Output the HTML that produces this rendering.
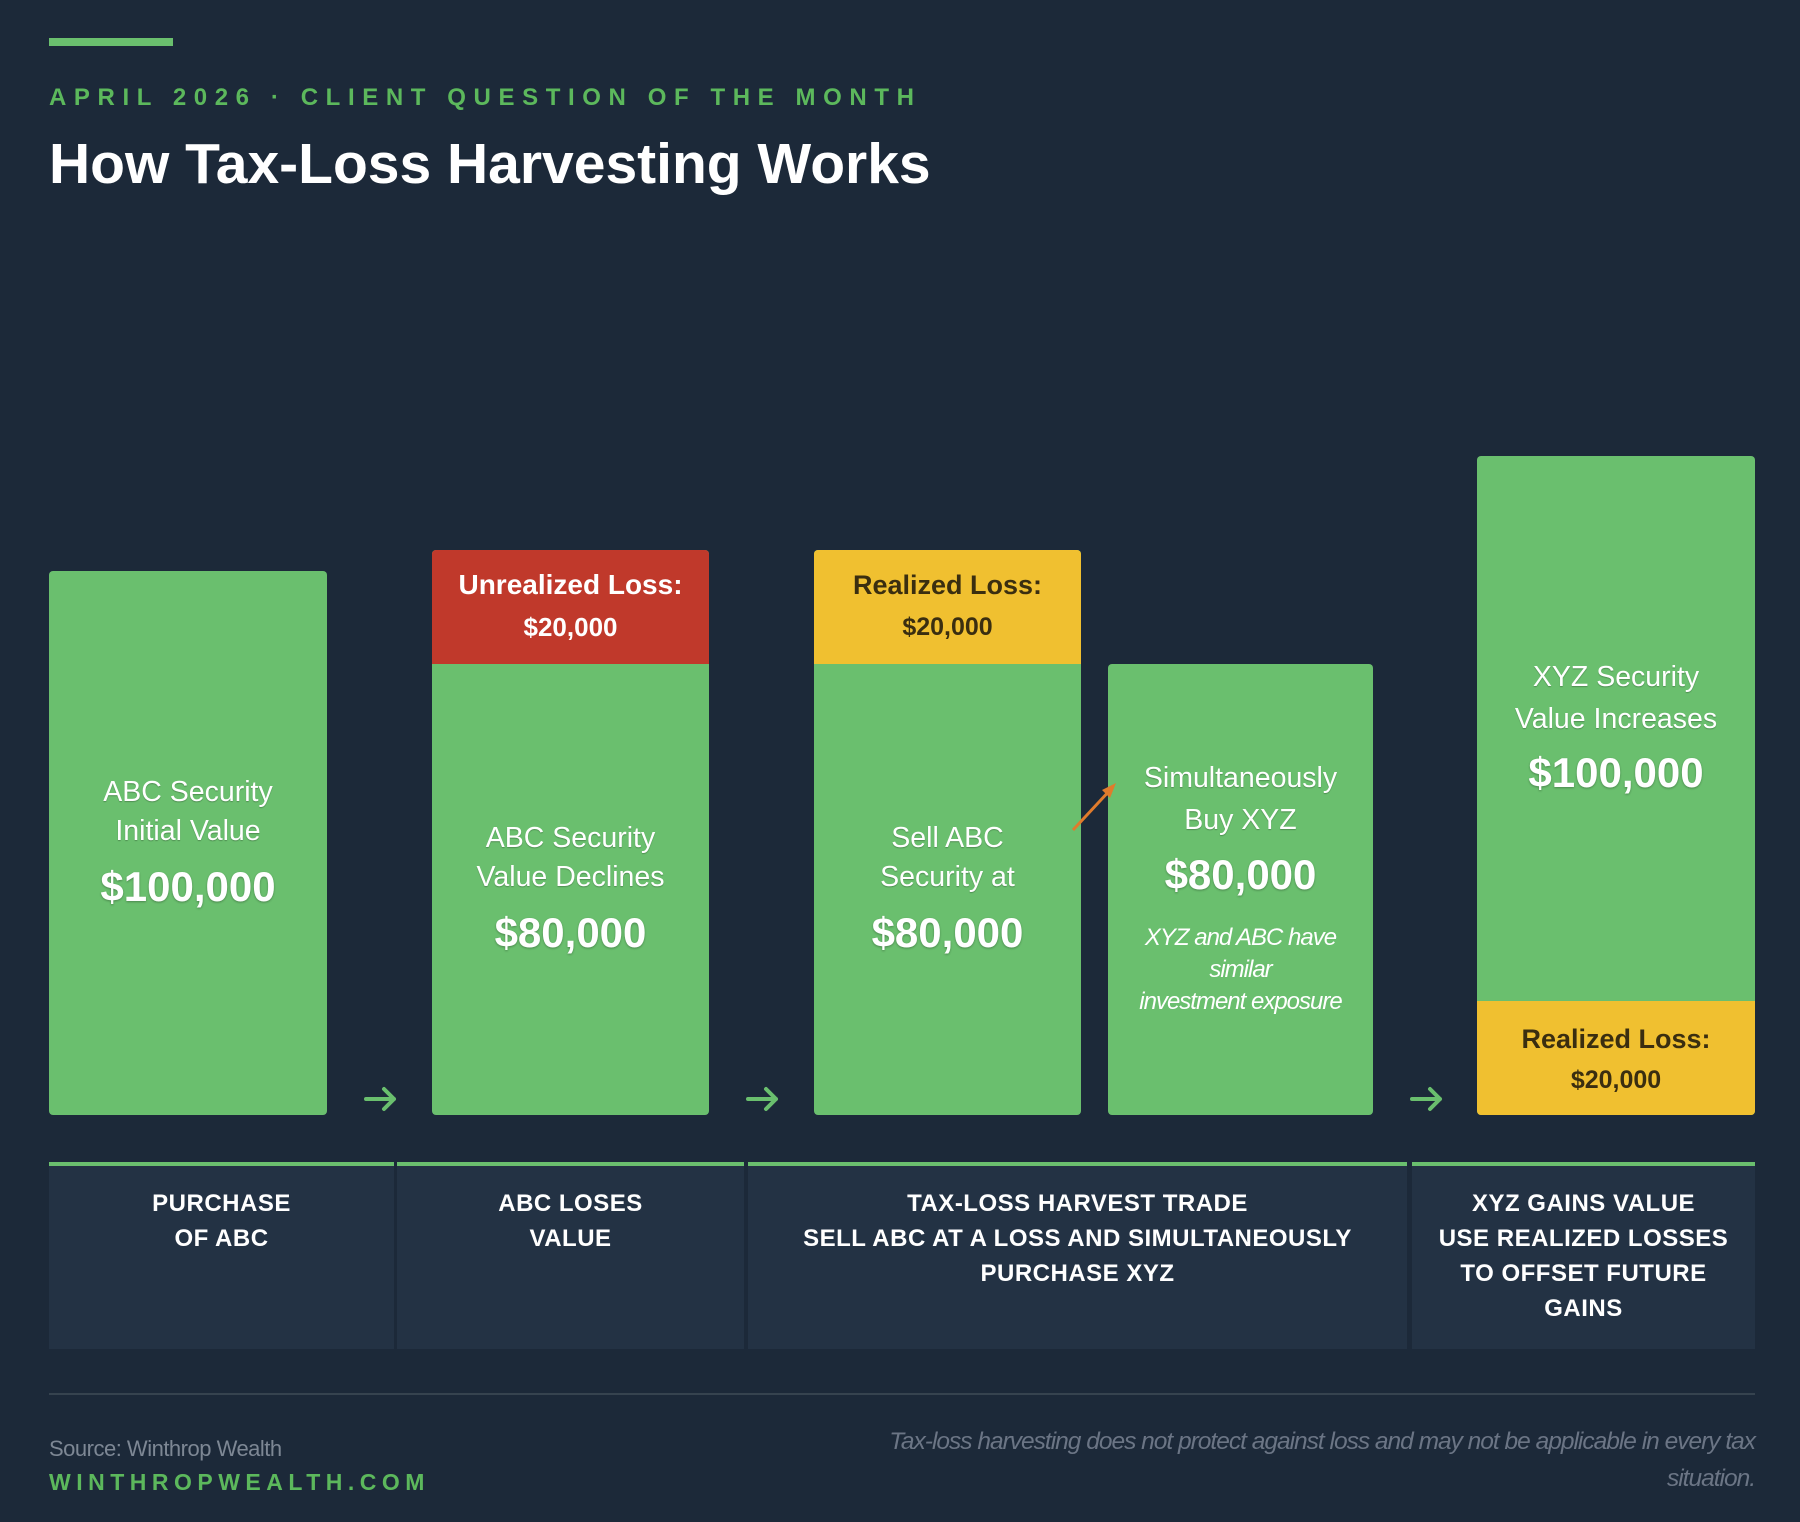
<!DOCTYPE html>
<html><head><meta charset="utf-8"><style>
*{margin:0;padding:0;box-sizing:border-box}
body{width:1800px;height:1522px;background:#1c2939;font-family:"Liberation Sans",sans-serif;position:relative;overflow:hidden}
.a{position:absolute}
.t{position:absolute;left:0;right:0;text-align:center;white-space:nowrap;line-height:40px}
.bar{position:absolute;background:#6abf6e;border-radius:4px;overflow:hidden;color:#fff}
.b{font-size:28.5px;text-shadow:0 1px 1px rgba(0,0,0,.25)}
.big{font-size:42px;font-weight:bold;text-shadow:0 1px 2px rgba(0,0,0,.3)}
.hd{font-size:28px;font-weight:bold}
.hy{font-size:27px;font-weight:bold;color:#3a2e10}
.lab{position:absolute;top:1162px;height:187px;background:#233244;border-top:4px solid #6abf6e;color:#fff;font-weight:bold;font-size:24px;letter-spacing:0.5px;text-align:center;line-height:35px;padding-top:20px}
</style></head><body>
<div class="a" style="left:49px;top:38px;width:124px;height:8px;background:#6abf6e"></div>
<div class="a" style="left:49px;top:84px;font-size:24px;font-weight:bold;letter-spacing:7.6px;color:#5cb85c;white-space:nowrap">APRIL 2026 · CLIENT QUESTION OF THE MONTH</div>
<div class="a" style="left:49px;top:131px;font-size:57px;font-weight:bold;color:#fff;white-space:nowrap">How Tax-Loss Harvesting Works</div>

<div class="bar" style="left:49px;top:571px;width:278px;height:544px">
<div class="t b" style="top:201px">ABC Security</div>
<div class="t b" style="top:240px">Initial Value</div>
<div class="t big" style="top:296px">$100,000</div>
</div>

<div class="bar" style="left:432px;top:550px;width:277px;height:565px">
<div class="a" style="left:0;top:0;width:100%;height:114px;background:#c0392b"></div>
<div class="t hd" style="top:15px">Unrealized Loss:</div>
<div class="t hd" style="top:57px;font-size:26px">$20,000</div>
<div class="t b" style="top:268px">ABC Security</div>
<div class="t b" style="top:307px">Value Declines</div>
<div class="t big" style="top:363px">$80,000</div>
</div>

<div class="bar" style="left:814px;top:550px;width:267px;height:565px">
<div class="a" style="left:0;top:0;width:100%;height:114px;background:#f0c030"></div>
<div class="t hy" style="top:15px">Realized Loss:</div>
<div class="t hy" style="top:57px;font-size:25px">$20,000</div>
<div class="t b" style="top:268px">Sell ABC</div>
<div class="t b" style="top:307px">Security at</div>
<div class="t big" style="top:363px">$80,000</div>
</div>

<div class="bar" style="left:1108px;top:664px;width:265px;height:451px">
<div class="t b" style="top:94px">Simultaneously</div>
<div class="t b" style="top:136px">Buy XYZ</div>
<div class="t big" style="top:191px">$80,000</div>
<div class="t" style="top:258px;font-size:24px;font-style:italic;letter-spacing:-1px;line-height:32px">XYZ and ABC have<br>similar<br>investment exposure</div>
</div>

<div class="bar" style="left:1477px;top:456px;width:278px;height:659px">
<div class="t b" style="top:201px">XYZ Security</div>
<div class="t b" style="top:243px">Value Increases</div>
<div class="t big" style="top:297px">$100,000</div>
<div class="a" style="left:0;top:545px;width:100%;height:114px;background:#f0c030"></div>
<div class="t hy" style="top:563px">Realized Loss:</div>
<div class="t hy" style="top:604px;font-size:25px">$20,000</div>
</div>

<svg class="a" style="left:0;top:0" width="1800" height="1522">
<g stroke="#6abf6e" stroke-width="4" fill="none" stroke-linecap="round" stroke-linejoin="round">
<path d="M366 1099H394M384 1089L394 1099L384 1109"/>
<path d="M748 1099H776M766 1089L776 1099L766 1109"/>
<path d="M1412 1099H1440M1430 1089L1440 1099L1430 1109"/>
</g>
<line x1="1073" y1="830" x2="1112" y2="788" stroke="#e07b2c" stroke-width="3"/>
<polygon points="1116,783 1102,790 1110,798" fill="#e07b2c"/>
</svg>

<div class="lab" style="left:49px;width:345px">PURCHASE<br>OF ABC</div>
<div class="lab" style="left:397px;width:347px">ABC LOSES<br>VALUE</div>
<div class="lab" style="left:748px;width:659px">TAX-LOSS HARVEST TRADE<br>SELL ABC AT A LOSS AND SIMULTANEOUSLY<br>PURCHASE XYZ</div>
<div class="lab" style="left:1412px;width:343px">XYZ GAINS VALUE<br>USE REALIZED LOSSES<br>TO OFFSET FUTURE<br>GAINS</div>

<div class="a" style="left:49px;top:1393px;width:1706px;height:2px;background:#36434f"></div>
<div class="a" style="left:49px;top:1436px;font-size:22px;color:#7d8794;letter-spacing:-0.5px">Source: Winthrop Wealth</div>
<div class="a" style="left:49px;top:1469px;font-size:23px;font-weight:bold;color:#5cb85c;letter-spacing:5.5px">WINTHROPWEALTH.COM</div>
<div class="a" style="right:45px;top:1423px;width:950px;text-align:right;font-size:24.5px;font-style:italic;color:#6b7585;letter-spacing:-1px;line-height:37px">Tax-loss harvesting does not protect against loss and may not be applicable in every tax<br>situation.</div>
</body></html>
